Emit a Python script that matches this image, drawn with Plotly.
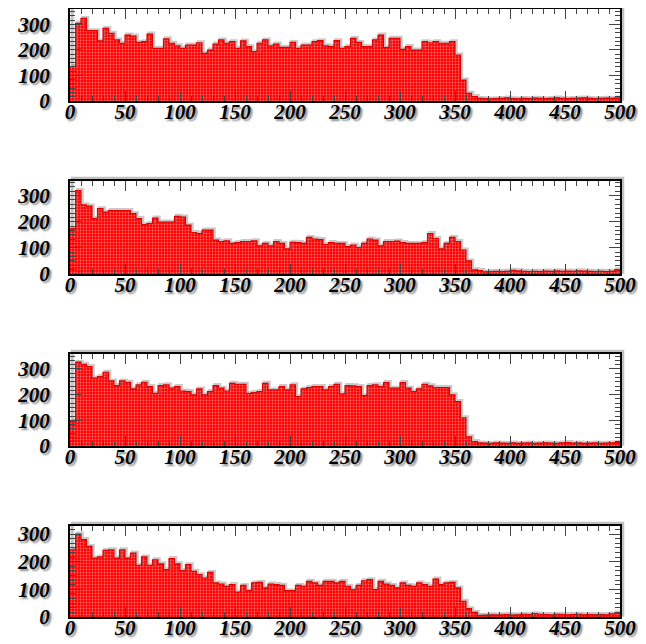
import plotly.graph_objects as go

bin_width = 5
n_bins = 100
x_ticks = [0, 50, 100, 150, 200, 250, 300, 350, 400, 450, 500]
y_ticks = [0, 100, 200, 300]

panel1 = [135, 304, 323, 275, 275, 235, 284, 265, 239, 226,
          258, 254, 229, 232, 262, 206, 206, 243, 226, 216,
          206, 219, 219, 228, 186, 199, 223, 239, 226, 232,
          206, 235, 213, 193, 226, 239, 216, 223, 210, 210,
          229, 206, 219, 219, 232, 236, 216,
          213, 236, 206, 213, 245, 229, 213, 213, 239, 258,
          209, 245, 245, 202, 213, 199, 199, 232, 228, 232,
          226, 226, 232, 180, 82, 30, 17,
          10, 9, 8, 9, 10, 12, 9, 8, 10, 9, 11, 10, 9, 10, 12, 10,
          9, 10, 11, 12, 10, 9, 10, 11, 10, 12]

panel2 = [174, 319, 265, 260, 212, 250, 237, 243, 243, 243,
          243, 231, 212, 189, 193, 214, 199, 199, 199, 221,
          218, 187, 159, 155, 168, 168, 130, 124, 127, 117,
          120, 124, 124, 127, 108, 117, 108, 124, 117, 96,
          121, 120, 117, 140, 134, 132, 113,
          120, 117, 117, 105, 111, 101, 117, 134, 130, 108,
          124, 124, 126, 120, 117, 117, 117, 120, 155, 136,
          96, 117, 140, 124, 92, 50, 16,
          13, 8, 9, 10, 9, 10, 14, 12, 10, 9, 10, 9, 11, 10, 12, 10,
          11, 10, 12, 11, 10, 9, 10, 9, 10, 16]

panel3 = [97, 326, 318, 309, 264, 270, 287, 253, 235, 253,
          248, 222, 238, 248, 231, 205, 235, 238, 225, 231,
          214, 212, 199, 222, 199, 212, 235, 225, 214, 244,
          240, 240, 205, 208, 212, 244, 218, 218, 231, 218,
          238, 192, 222, 227, 231, 231, 218,
          231, 240, 203, 235, 234, 231, 196, 235, 238, 231,
          247, 225, 225, 247, 225, 212, 222, 240, 234, 227,
          227, 227, 199, 173, 110, 36, 17,
          12, 11, 10, 12, 11, 10, 12, 10, 11, 12, 10, 11, 12, 11, 10, 12,
          13, 11, 12, 10, 11, 12, 10, 11, 12, 13]

panel4 = [243, 300, 280, 255, 213, 217, 241, 243, 213, 243,
          213, 231, 187, 217, 187, 207, 192, 171, 211, 192,
          168, 189, 165, 153, 141, 161, 123, 119, 111, 117,
          90, 114, 95, 123, 125, 105, 119, 117, 114, 95,
          95, 114, 111, 129, 123, 114, 129,
          129, 123, 129, 111, 99, 114, 131, 135, 99, 129,
          119, 114, 105, 123, 114, 111, 123, 117, 111, 137,
          117, 123, 125, 105, 57, 30, 17,
          5, 6, 8, 7, 8, 9, 7, 8, 10, 9, 12, 10, 9, 8, 10, 9,
          8, 9, 10, 8, 9, 8, 9, 8, 11, 14]

panels = [panel1, panel2, panel3, panel4]
y_max = [360, 356, 358, 329]
domains = [[0.8487, 1.0], [0.5641, 0.7171], [0.28125, 0.4326], [0.0, 0.1497]]

centers = [bin_width * (i + 0.5) for i in range(n_bins)]
edges = [bin_width * i for i in range(n_bins + 1)]

font = dict(family="Liberation Serif", size=21, color="black",
            weight="bold", style="italic", shadow="2px 2px 2px #888")

fig = go.Figure()
shapes = []
for i, vals in enumerate(panels):
    sfx = "" if i == 0 else str(i + 1)
    # soft grey shadow of the histogram outline
    fig.add_trace(go.Scatter(
        x=[e + 1.4 for e in edges], y=[v + y_max[i] * 0.014 for v in vals + [vals[-1]]],
        mode="lines", line=dict(shape="hv", color="rgba(120,120,120,0.4)", width=2.5),
        xaxis="x" + sfx, yaxis="y" + sfx, showlegend=False, hoverinfo="skip"))
    fig.add_trace(go.Bar(
        x=centers, y=vals, width=bin_width,
        marker=dict(color="#ff0000", line_width=0,
                    pattern=dict(shape=".", fgcolor="#ffe0e0", size=3,
                                 solidity=0.3, fillmode="overlay")),
        xaxis="x" + sfx, yaxis="y" + sfx, showlegend=False, hoverinfo="skip"))
    fig.add_trace(go.Scatter(
        x=edges, y=vals + [vals[-1]], mode="lines",
        line=dict(shape="hv", color="#e00000", width=1.2),
        xaxis="x" + sfx, yaxis="y" + sfx, showlegend=False, hoverinfo="skip"))
    fig.layout["xaxis" + sfx] = dict(
        domain=[0, 1], anchor="y" + sfx, range=[0, 500], automargin=False,
        tickvals=x_ticks, ticks="inside", ticklen=10, tickwidth=1,
        minor=dict(dtick=10, ticklen=5, ticks="inside", tickwidth=1),
        showline=True, linewidth=2, linecolor="black", mirror="ticks",
        showgrid=False, zeroline=False, tickfont=font, ticklabelstandoff=-9)
    fig.layout["yaxis" + sfx] = dict(
        domain=domains[i], anchor="x" + sfx, range=[0, y_max[i]], automargin=False,
        tickvals=y_ticks, ticks="inside", ticklen=11, tickwidth=1,
        minor=dict(tick0=0, dtick=100 / 6, ticklen=5, ticks="inside", tickwidth=1),
        showline=True, linewidth=2, linecolor="black", mirror="ticks",
        showgrid=False, zeroline=False, tickfont=font, ticklabelstandoff=14)
    # grey drop shadow of the frame
    shapes.append(dict(type="rect", xref="x" + sfx + " domain", yref="y" + sfx + " domain",
                       x0=0.004, x1=1.005, y0=0.02, y1=1.03, layer="below",
                       line=dict(color="rgba(150,150,150,0.6)", width=3)))

# The page body has an 8px margin, so the figure is sized and offset to compensate.
fig.update_layout(
    width=638, height=636,
    margin=dict(l=62, r=26, t=1, b=27),
    paper_bgcolor="white", plot_bgcolor="white",
    bargap=0, barmode="overlay", shapes=shapes,
)

fig.write_html("out.html")
